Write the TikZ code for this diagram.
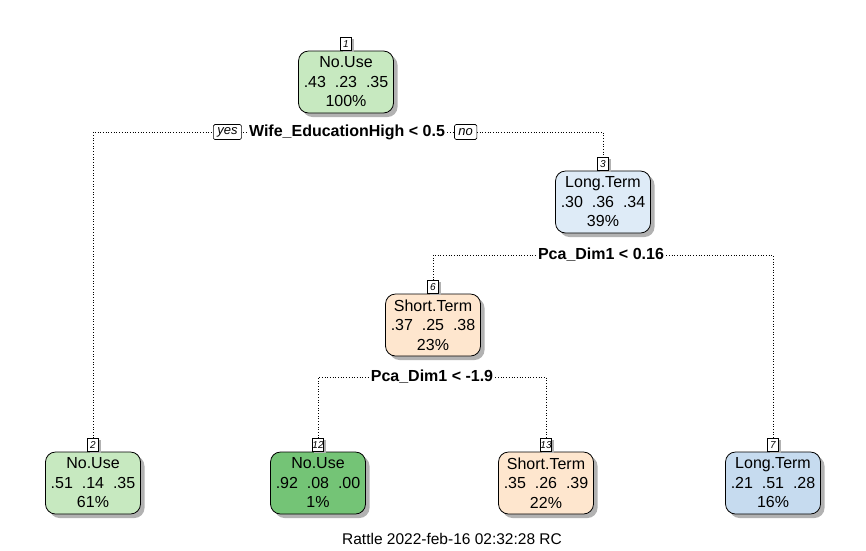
\documentclass[tikz,border=0pt]{standalone}
\usepackage{fontspec}
\setmainfont{Liberation Sans}
\usetikzlibrary{positioning,shadows}
\definecolor{greenlt}{HTML}{C7E9C0}
\definecolor{greendk}{HTML}{74C476}
\definecolor{bluelt}{HTML}{DEEBF7}
\definecolor{bluemd}{HTML}{C6DBEF}
\definecolor{peach}{HTML}{FEE6CE}
\pgfdeclarelayer{bg}
\pgfsetlayers{bg,main}
\tikzset{
        treenode/.style={align=center,inner sep=0pt},
        % Class boxes
        node_box/.style={treenode, draw=black, line width=0.8pt, rounded corners=10pt,
            minimum width=95pt, minimum height=62pt, font=\fontsize{16}{19.5}\selectfont,
            drop shadow={shadow xshift=4pt, shadow yshift=-4pt, fill=black!30, opacity=1}},
        % Node numbers
        node_num/.style={treenode, draw=black, fill=white, line width=0.6pt,
            minimum width=11pt, minimum height=13pt, font=\fontsize{10}{10}\selectfont\itshape,
            drop shadow={shadow xshift=2pt, shadow yshift=-2pt, fill=black!30, opacity=1}},
        % Split rules
        node_split/.style={treenode, fill=white, inner xsep=2pt, font=\fontsize{16}{16}\selectfont\bfseries},
        % yes / no tags
        node_tag/.style={treenode, draw=black, fill=white, rounded corners=1.5pt, line width=0.6pt,
            minimum height=15pt, inner xsep=4pt, font=\fontsize{13}{13}\selectfont\itshape},
        edge/.style={dotted, line width=0.7pt}
}
\begin{document}
\begin{tikzpicture}[x=1pt, y=-1pt]
    \useasboundingbox (0,0) rectangle (866,550);
    % boxes
    \node[node_box, fill=greenlt] (n1)  at (346,82)  {No.Use\\.43~~.23~~.35\\100\%};
    \node[node_box, fill=bluelt]  (n3)  at (603,202) {Long.Term\\.30~~.36~~.34\\39\%};
    \node[node_box, fill=peach]   (n6)  at (433,325) {Short.Term\\.37~~.25~~.38\\23\%};
    \node[node_box, fill=greenlt] (n2)  at (93,483)  {No.Use\\.51~~.14~~.35\\61\%};
    \node[node_box, fill=greendk] (n12) at (318,483) {No.Use\\.92~~.08~~.00\\1\%};
    \node[node_box, fill=peach]   (n13) at (546,483) {Short.Term\\.35~~.26~~.39\\22\%};
    \node[node_box, fill=bluemd]  (n7)  at (773,483) {Long.Term\\.21~~.51~~.28\\16\%};
    % numbers
    \foreach \n/\t in {n1/1, n3/3, n6/6, n2/2, n12/12, n13/13, n7/7}
        \node[node_num, above=0pt of \n] (\n num) {\t};
    % splits
    \node[node_split] (split1) at (347,132) {Wife\_EducationHigh < 0.5};
    \node[node_tag, left=5pt of split1] (yes) {yes};
    \node[node_tag, right=7pt of split1] (no) {no};
    \node[node_split] (split3) at (601,255) {Pca\_Dim1 < 0.16};
    \node[node_split] (split6) at (432,377) {Pca\_Dim1 < -1.9};
    % connectors
    \begin{pgfonlayer}{bg}
        \draw[edge] (n2num.north) |- (split1) -| (n3num.north);
        \draw[edge] (n6num.north) |- (split3) -| (n7num.north);
        \draw[edge] (n12num.north) |- (split6) -| (n13num.north);
    \end{pgfonlayer}
    \node[treenode, font=\fontsize{15.5}{15.5}\selectfont] (footer) at (452,539) {Rattle 2022-feb-16 02:32:28 RC};
\end{tikzpicture}
\end{document}
